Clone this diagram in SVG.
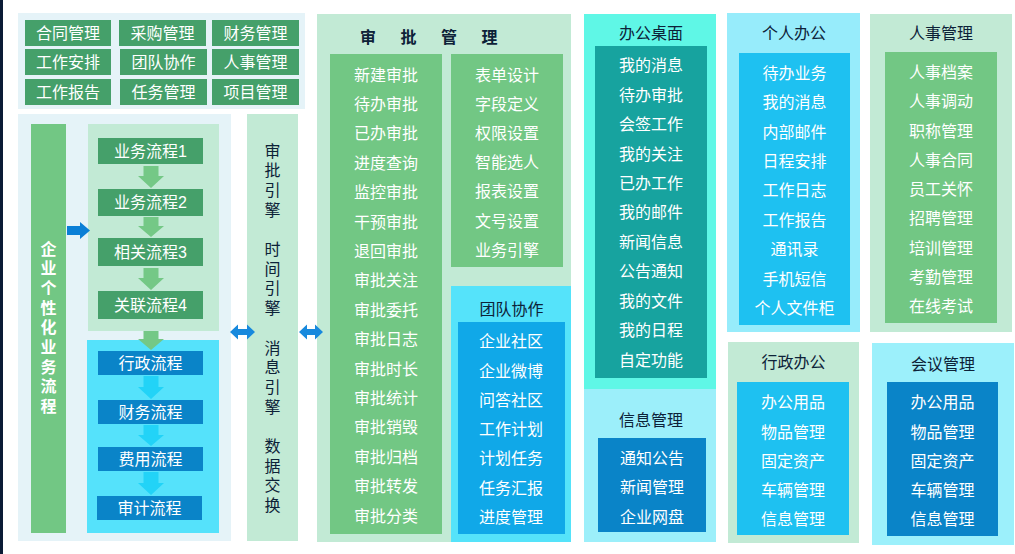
<svg xmlns="http://www.w3.org/2000/svg" width="1015" height="554" viewBox="0 0 1015 554">
<style>
text{font-family:"Liberation Sans","Noto Sans CJK SC",sans-serif;font-size:16px;text-anchor:middle;dominant-baseline:central}
.w{fill:#ffffff}
.d{fill:#0d2238}
.b{font-weight:bold;font-size:17px}
.pl{fill:#e5f3f8}
.lg{fill:#c2ead5}
.dg{fill:#45a06a}
.mg{fill:#72c784}
.cy{fill:#55e2fb}
.db{fill:#0a84c8}
.ga{fill:#74c886}
.ca{fill:#22d3f7}
.ba{fill:#1789dd}
</style>
<rect x="0" y="0" width="1015" height="554" fill="#ffffff"/>
<rect x="0" y="0" width="3" height="554" fill="#0b1b35"/>

<g id="modules">
<rect class="pl" x="18" y="13" width="287" height="96"/>
<rect class="dg" x="25" y="20" width="86" height="26"/><text class="w" x="68" y="33">合同管理</text>
<rect class="dg" x="119" y="20" width="87" height="26"/><text class="w" x="162.5" y="33">采购管理</text>
<rect class="dg" x="212" y="20" width="87" height="26"/><text class="w" x="255.5" y="33">财务管理</text>
<rect class="dg" x="25" y="49" width="86" height="26"/><text class="w" x="68" y="62">工作安排</text>
<rect class="dg" x="120" y="49" width="87" height="26"/><text class="w" x="163.5" y="62">团队协作</text>
<rect class="dg" x="212" y="49" width="87" height="26"/><text class="w" x="255.5" y="62">人事管理</text>
<rect class="dg" x="25" y="79" width="86" height="26"/><text class="w" x="68" y="92">工作报告</text>
<rect class="dg" x="120" y="79" width="87" height="26"/><text class="w" x="163.5" y="92">任务管理</text>
<rect class="dg" x="212" y="79" width="87" height="26"/><text class="w" x="255.5" y="92">项目管理</text>
</g>

<g id="flows">
<rect class="pl" x="18" y="114" width="213" height="427"/>
<rect class="mg" x="31" y="124" width="35" height="409"/>
<g class="w b">
<text x="48.5" y="249">企</text><text x="48.5" y="268.7">业</text><text x="48.5" y="288.4">个</text>
<text x="48.5" y="308.1">性</text><text x="48.5" y="327.8">化</text><text x="48.5" y="347.5">业</text>
<text x="48.5" y="367.2">务</text><text x="48.5" y="386.9">流</text><text x="48.5" y="406.6">程</text>
</g>
<rect class="lg" x="88" y="124" width="131" height="207"/>
<rect class="cy" x="87" y="340" width="132" height="193"/>
</g>

<g id="flow1"><rect class="dg" x="98" y="138" width="105" height="26"/><text class="w" x="150.5" y="151">业务流程1</text></g>
<g id="flow2"><rect class="dg" x="98" y="189" width="105" height="27"/><text class="w" x="150.5" y="202.5">业务流程2</text></g>
<g id="flow3"><rect class="dg" x="98" y="238" width="105" height="28"/><text class="w" x="150.5" y="252">相关流程3</text></g>
<g id="flow4"><rect class="dg" x="98" y="291" width="105" height="28"/><text class="w" x="150.5" y="305">关联流程4</text></g>
<g id="flow-admin"><rect class="db" x="98" y="351" width="105" height="24"/><text class="w" x="150.5" y="363">行政流程</text></g>
<g id="flow-finance"><rect class="db" x="98" y="400" width="105" height="24"/><text class="w" x="150.5" y="412">财务流程</text></g>
<g id="flow-expense"><rect class="db" x="98" y="447" width="105" height="24"/><text class="w" x="150.5" y="459">费用流程</text></g>
<g id="flow-audit"><rect class="db" x="97" y="496" width="105" height="24"/><text class="w" x="149.5" y="508">审计流程</text></g>

<g id="engines">
<rect class="lg" x="247" y="114" width="51" height="427"/>
<g class="d">
<text x="272.5" y="151">审</text><text x="272.5" y="170.7">批</text><text x="272.5" y="190.4">引</text><text x="272.5" y="210.1">擎</text>
<text x="272.5" y="249.5">时</text><text x="272.5" y="269.2">间</text><text x="272.5" y="288.9">引</text><text x="272.5" y="308.6">擎</text>
<text x="272.5" y="348">消</text><text x="272.5" y="367.7">息</text><text x="272.5" y="387.4">引</text><text x="272.5" y="407.1">擎</text>
<text x="272.5" y="446.5">数</text><text x="272.5" y="466.2">据</text><text x="272.5" y="485.9">交</text><text x="272.5" y="505.6">换</text>
</g>
</g>

<g id="approval">
<rect class="lg" x="317" y="14" width="254" height="528"/>
<text class="d" x="360" y="37" style="text-anchor:start;letter-spacing:24.5px;font-weight:bold">审批管理</text>
<rect class="mg" x="330" y="54" width="112" height="480"/>
<rect class="mg" x="451" y="54" width="112" height="213"/>
<g class="w">
<text x="386" y="75">新建审批</text><text x="386" y="104.4">待办审批</text><text x="386" y="133.8">已办审批</text>
<text x="386" y="163.2">进度查询</text><text x="386" y="192.6">监控审批</text><text x="386" y="222">干预审批</text>
<text x="386" y="251.4">退回审批</text><text x="386" y="280.8">审批关注</text><text x="386" y="310.2">审批委托</text>
<text x="386" y="339.6">审批日志</text><text x="386" y="369">审批时长</text><text x="386" y="398.4">审批统计</text>
<text x="386" y="427.8">审批销毁</text><text x="386" y="457.2">审批归档</text><text x="386" y="486.6">审批转发</text>
<text x="386" y="516">审批分类</text>
<text x="507" y="75">表单设计</text><text x="507" y="104.2">字段定义</text><text x="507" y="133.4">权限设置</text>
<text x="507" y="162.6">智能选人</text><text x="507" y="191.8">报表设置</text><text x="507" y="221">文号设置</text>
<text x="507" y="250.2">业务引擎</text>
</g>
</g>

<g id="team">
<rect fill="#55e3fa" x="451" y="286" width="120" height="256"/>
<text class="d" x="511.5" y="309">团队协作</text>
<rect fill="#10a8e8" x="458" y="322" width="107" height="212"/>
<g class="w">
<text x="511" y="341.7">企业社区</text><text x="511" y="371">企业微博</text><text x="511" y="400.3">问答社区</text>
<text x="511" y="429.6">工作计划</text><text x="511" y="458.9">计划任务</text><text x="511" y="488.2">任务汇报</text>
<text x="511" y="517.5">进度管理</text>
</g>
</g>

<g id="desktop">
<rect fill="#5ff7e6" x="584" y="14" width="132" height="375"/>
<text class="d" x="651" y="33">办公桌面</text>
<rect fill="#17a39f" x="595" y="46" width="112" height="332"/>
<g class="w">
<text x="651" y="65.7">我的消息</text><text x="651" y="95.1">待办审批</text><text x="651" y="124.6">会签工作</text>
<text x="651" y="154">我的关注</text><text x="651" y="183.4">已办工作</text><text x="651" y="212.9">我的邮件</text>
<text x="651" y="242.3">新闻信息</text><text x="651" y="271.7">公告通知</text><text x="651" y="301.1">我的文件</text>
<text x="651" y="330.6">我的日程</text><text x="651" y="360">自定功能</text>
</g>
</g>

<g id="info">
<rect fill="#9ceffa" x="584" y="389" width="132" height="153"/>
<text class="d" x="651" y="420">信息管理</text>
<rect class="db" x="598" y="438" width="108" height="94"/>
<g class="w">
<text x="652" y="458.3">通知公告</text><text x="652" y="487.7">新闻管理</text><text x="652" y="517.1">企业网盘</text>
</g>
</g>

<g id="personal">
<rect fill="#97ecfb" x="727" y="13" width="133" height="319"/>
<text class="d" x="794" y="33">个人办公</text>
<rect fill="#1ec1f1" x="739" y="53" width="111" height="272"/>
<g class="w">
<text x="794.5" y="73.3">待办业务</text><text x="794.5" y="102.7">我的消息</text><text x="794.5" y="132.1">内部邮件</text>
<text x="794.5" y="161.5">日程安排</text><text x="794.5" y="190.9">工作日志</text><text x="794.5" y="220.3">工作报告</text>
<text x="794.5" y="249.7">通讯录</text><text x="794.5" y="279.1">手机短信</text><text x="794.5" y="308.5">个人文件柜</text>
</g>
</g>

<g id="admin">
<rect class="lg" x="728" y="342" width="131" height="201"/>
<text class="d" x="793.5" y="362.7">行政办公</text>
<rect fill="#1ec1f1" x="737" y="382" width="112" height="153"/>
<g class="w">
<text x="793" y="402.7">办公用品</text><text x="793" y="432">物品管理</text><text x="793" y="461.3">固定资产</text>
<text x="793" y="490.6">车辆管理</text><text x="793" y="519.9">信息管理</text>
</g>
</g>

<g id="hr">
<rect class="lg" x="870" y="14" width="142" height="318"/>
<text class="d" x="941" y="33.3">人事管理</text>
<rect class="mg" x="885" y="52" width="112" height="271"/>
<g class="w">
<text x="941" y="72.7">人事档案</text><text x="941" y="101.9">人事调动</text><text x="941" y="131.2">职称管理</text>
<text x="941" y="160.4">人事合同</text><text x="941" y="189.7">员工关怀</text><text x="941" y="218.9">招聘管理</text>
<text x="941" y="248.2">培训管理</text><text x="941" y="277.4">考勤管理</text><text x="941" y="306.7">在线考试</text>
</g>
</g>

<g id="meeting">
<rect fill="#9cf0fb" x="872" y="343" width="142" height="202"/>
<text class="d" x="943" y="364.3">会议管理</text>
<rect class="db" x="887" y="382" width="111" height="154"/>
<g class="w">
<text x="942.5" y="402.7">办公用品</text><text x="942.5" y="432">物品管理</text><text x="942.5" y="461.3">固定资产</text>
<text x="942.5" y="490.6">车辆管理</text><text x="942.5" y="519.9">信息管理</text>
</g>
</g>

<g id="connectors">
<polygon class="ga" points="143.5,166 158.5,166 158.5,176 164,176 151,188 138,176 143.5,176"/>
<polygon class="ga" points="143.5,217 158.5,217 158.5,226 164,226 151,237 138,226 143.5,226"/>
<polygon class="ga" points="143.5,268 158.5,268 158.5,278 164,278 151,290 138,278 143.5,278"/>
<polygon class="ga" points="143.5,331 158.5,331 158.5,339 164,339 151,350 138,339 143.5,339"/>
<polygon class="ca" points="143.5,376 158.5,376 158.5,387 164,387 151,399 138,387 143.5,387"/>
<polygon class="ca" points="143.5,425 158.5,425 158.5,435 164,435 151,446 138,435 143.5,435"/>
<polygon class="ca" points="143.5,472 158.5,472 158.5,483 164,483 151,495 138,483 143.5,483"/>
<polygon fill="#0a7fd6" points="67,226 80,226 80,222 90,230.5 80,239 80,235 67,235"/>
<polygon class="ba" points="230,332 238,324.5 238,329 247,329 247,324.5 255,332 247,339.5 247,335 238,335 238,339.5"/>
<polygon class="ba" points="299,332 307,324.5 307,329 315,329 315,324.5 323,332 315,339.5 315,335 307,335 307,339.5"/>
</g>
</svg>
